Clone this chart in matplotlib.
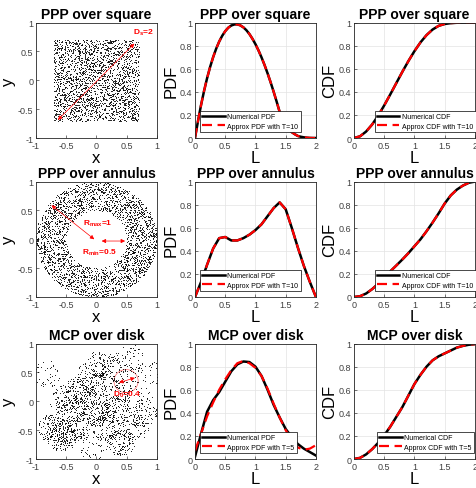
import numpy as np
import matplotlib
matplotlib.use('Agg')
import matplotlib.pyplot as plt
from matplotlib.patches import Circle

plt.rcParams['font.family'] = ['Liberation Sans', 'DejaVu Sans']
plt.rcParams['mathtext.default'] = 'regular'
plt.rcParams['axes.edgecolor'] = '#262626'
plt.rcParams['axes.linewidth'] = 0.6

# ---------------- data ----------------
L_fine = [0.0, 0.05, 0.1, 0.15, 0.2, 0.25, 0.3, 0.35, 0.4, 0.45, 0.5, 0.55, 0.6, 0.65,
          0.7, 0.75, 0.8, 0.85, 0.9, 0.95, 1.0, 1.05, 1.1, 1.15, 1.2, 1.25, 1.3, 1.35,
          1.4, 1.45, 1.5, 1.55, 1.6, 1.65, 1.7, 1.75, 1.8, 1.85, 1.9, 1.95, 2.0]
L = [0.0, 0.1, 0.2, 0.3, 0.4, 0.5, 0.6, 0.7, 0.8, 0.9, 1.0,
     1.1, 1.2, 1.3, 1.4, 1.5, 1.6, 1.7, 1.8, 1.9, 2.0]

sq_pdf = [0.0, 0.150, 0.286, 0.409, 0.519, 0.616, 0.701, 0.774, 0.836, 0.886, 0.926,
          0.956, 0.975, 0.984, 0.985, 0.976, 0.959, 0.934, 0.901, 0.860, 0.813, 0.759,
          0.699, 0.633, 0.561, 0.484, 0.402, 0.316, 0.226, 0.153, 0.107, 0.076, 0.051,
          0.033, 0.018, 0.011, 0.006, 0.003, 0.001, 0.0003, 0.0]
sq_cdf = [0.0, 0.015, 0.056, 0.117, 0.194, 0.283, 0.378, 0.476, 0.574, 0.667, 0.753,
          0.829, 0.892, 0.940, 0.972, 0.988, 0.9955, 0.9988, 0.9998, 1.0, 1.0]

an_pdf = [0.0, 0.13, 0.28, 0.42, 0.51, 0.52, 0.49, 0.49, 0.51, 0.54, 0.58,
          0.63, 0.70, 0.77, 0.82, 0.76, 0.60, 0.43, 0.27, 0.13, 0.0]
an_cdf = [0.0, 0.007, 0.03, 0.068, 0.115, 0.17, 0.222, 0.273, 0.325, 0.38, 0.44,
          0.50, 0.57, 0.645, 0.725, 0.81, 0.88, 0.93, 0.965, 0.99, 1.0]

mcp_pdf_num = [0.02, 0.22, 0.41, 0.51, 0.58, 0.67, 0.76, 0.82, 0.845, 0.84, 0.80,
               0.72, 0.60, 0.47, 0.36, 0.26, 0.19, 0.13, 0.09, 0.06, 0.03]
mcp_pdf_apx = [0.07, 0.22, 0.37, 0.49, 0.60, 0.69, 0.77, 0.83, 0.85, 0.83, 0.79,
               0.72, 0.61, 0.48, 0.36, 0.25, 0.16, 0.10, 0.08, 0.09, 0.12]
mcp_cdf = [0.0, 0.01, 0.04, 0.085, 0.14, 0.205, 0.28, 0.365, 0.45, 0.55, 0.65,
           0.73, 0.80, 0.855, 0.89, 0.915, 0.94, 0.965, 0.98, 0.99, 0.995]

# point-process settings (the clouds themselves are simulated, as in the original)
sq_half = 0.707
n_square = 2300
r_in, r_out = 0.5, 1.0
n_annulus = 2700
# MCP parent centres (x, y, number of daughters)
mcp_x = [-0.83, -0.75, -0.58, -0.45, -0.30, -0.15, 0.05, 0.10, 0.55, 0.50, 0.88,
         0.00, 0.30, 0.75, 0.40, -0.05, 0.35, -0.30, -0.55, 0.15, 0.62, -0.10,
         0.25, 0.68, -0.45]
mcp_y = [0.47, -0.45, -0.62, -0.15, 0.20, 0.05, 0.65, 0.30, 0.75, 0.40, 0.45,
         -0.20, -0.15, -0.20, -0.70, -0.80, 0.15, -0.40, 0.05, -0.45, -0.45, 0.45,
         0.62, 0.08, -0.50]
mcp_n = [45, 140, 140, 100, 130, 110, 100, 70, 50, 45, 45,
         130, 130, 90, 140, 50, 55, 90, 70, 90, 80, 60,
         45, 50, 70]
mcp_r = 0.24

rng = np.random.default_rng(7)
sq_pts = rng.uniform(-sq_half, sq_half, size=(n_square, 2))
rr = np.sqrt(rng.uniform(r_in**2, r_out**2, n_annulus))
th = rng.uniform(0, 2*np.pi, n_annulus)
an_pts = np.column_stack([rr*np.cos(th), rr*np.sin(th)])
mcp_list = []
for cx, cy, n in zip(mcp_x, mcp_y, mcp_n):
    r = mcp_r*np.sqrt(rng.uniform(0, 1, n))
    t = rng.uniform(0, 2*np.pi, n)
    mcp_list.append(np.column_stack([cx + r*np.cos(t), cy + r*np.sin(t)]))
mcp_pts = np.vstack(mcp_list)

# ---------------- layout ----------------
fig = plt.figure(figsize=(4.76, 4.89), dpi=100)
col_x = [0.0756, 0.4097, 0.7437]
row_y = [0.7157, 0.3906, 0.0593]
w, h = 0.254, 0.236

titles = ['PPP over square', 'PPP over annulus', 'MCP over disk']
tick_col = '#404040'


def style(ax, grid):
    ax.tick_params(direction='in', length=2.5, width=0.5, labelsize=6.5,
                   colors=tick_col, pad=2, top=False, right=False)
    if grid:
        ax.grid(True, color='#e3e3e3', linewidth=0.5)
        ax.set_axisbelow(True)


def scatter_panel(ax, pts, title):
    ax.plot(pts[:, 0], pts[:, 1], 'k.', markersize=1.25, markeredgewidth=0)
    ax.set_xlim(-1, 1)
    ax.set_ylim(-1, 1)
    ax.set_xticks([-1, -0.5, 0, 0.5, 1])
    ax.set_xticklabels(['-1', '-0.5', '0', '0.5', '1'])
    ax.set_yticks([-1, -0.5, 0, 0.5, 1])
    ax.set_yticklabels(['-1', '-0.5', '0', '0.5', '1'])
    ax.set_xlabel('x', fontsize=12, labelpad=0)
    ax.set_ylabel('y', fontsize=12, labelpad=1)
    ax.set_title(title, fontsize=10, fontweight='bold', pad=3)
    style(ax, False)


def curve_panel(ax, xs_b, yb, xs_r, yr, ylabel, lab_b, lab_r, title, leg_x):
    ax.plot(xs_b, yb, color='black', lw=1.8, label=lab_b)
    ax.plot(xs_r, yr, color='red', lw=1.6, ls=(0, (4.5, 2.5)), label=lab_r)
    ax.set_xlim(0, 2)
    ax.set_ylim(0, 1)
    ax.set_xticks([0, 0.5, 1, 1.5, 2])
    ax.set_xticklabels(['0', '0.5', '1', '1.5', '2'])
    ax.set_yticks([0, 0.2, 0.4, 0.6, 0.8, 1])
    ax.set_yticklabels(['0', '0.2', '0.4', '0.6', '0.8', '1'])
    ax.set_xlabel('L', fontsize=12, labelpad=0)
    ax.set_ylabel(ylabel, fontsize=12, labelpad=1)
    ax.set_title(title, fontsize=10, fontweight='bold', pad=3)
    style(ax, True)
    leg = ax.legend(loc='lower left', bbox_to_anchor=(leg_x, 0.05), fontsize=5,
                    fancybox=False, framealpha=1, edgecolor='black',
                    handlelength=3.2, borderpad=0.35, labelspacing=0.35,
                    handletextpad=0.4, borderaxespad=0)
    leg.get_frame().set_linewidth(0.5)


axes = [[fig.add_axes([cx, ry, w, h]) for cx in col_x] for ry in row_y]

# row 1: square
scatter_panel(axes[0][0], sq_pts, titles[0])
ax = axes[0][0]
ax.annotate('', xy=(0.66, 0.67), xytext=(-0.67, -0.72),
            arrowprops=dict(arrowstyle='<|-|>', color='red', lw=0.5, mutation_scale=6))
ax.text(0.6, 0.8, 'D$_s$=2', color='red', fontsize=6, fontweight='bold')
curve_panel(axes[0][1], L_fine, sq_pdf, L_fine, sq_pdf, 'PDF', 'Numerical PDF',
            'Approx PDF with T=10', titles[0], 0.04)
curve_panel(axes[0][2], L, sq_cdf, L, sq_cdf, 'CDF', 'Numerical CDF',
            'Approx CDF with T=10', titles[0], 0.17)

# row 2: annulus
scatter_panel(axes[1][0], an_pts, titles[1])
ax = axes[1][0]
ax.annotate('', xy=(-0.78, 0.62), xytext=(0.0, -0.03),
            arrowprops=dict(arrowstyle='<|-|>', color='red', lw=0.5, mutation_scale=6))
ax.annotate('', xy=(0.52, -0.03), xytext=(0.04, -0.03),
            arrowprops=dict(arrowstyle='<|-|>', color='red', lw=0.5, mutation_scale=6))
ax.text(0.02, 0.25, 'R$_{max}$=1', color='red', fontsize=6, fontweight='bold', ha='center')
ax.text(0.05, -0.25, 'R$_{min}$=0.5', color='red', fontsize=6, fontweight='bold', ha='center')
curve_panel(axes[1][1], L, an_pdf, L, an_pdf, 'PDF', 'Numerical PDF',
            'Approx PDF with T=10', titles[1], 0.04)
curve_panel(axes[1][2], L, an_cdf, L, an_cdf, 'CDF', 'Numerical CDF',
            'Approx CDF with T=10', titles[1], 0.17)

# row 3: MCP
scatter_panel(axes[2][0], mcp_pts, titles[2])
ax = axes[2][0]
ax.add_patch(Circle((0.49, 0.35), 0.2, fill=False, color='red', lw=0.5, alpha=0.6))
ax.annotate('', xy=(0.68, 0.42), xytext=(0.33, 0.31),
            arrowprops=dict(arrowstyle='<|-|>', color='red', lw=0.5, mutation_scale=6))
ax.text(0.5, 0.1, 'D$_0$=0.4', color='red', fontsize=6, fontweight='bold', ha='center')
curve_panel(axes[2][1], L, mcp_pdf_num, L, mcp_pdf_apx, 'PDF', 'Numerical PDF',
            'Approx PDF with T=5', titles[2], 0.04)
curve_panel(axes[2][2], L, mcp_cdf, L, mcp_cdf, 'CDF', 'Numerical CDF',
            'Approx CDF with T=5', titles[2], 0.19)

fig.savefig('out.png', dpi=100)
